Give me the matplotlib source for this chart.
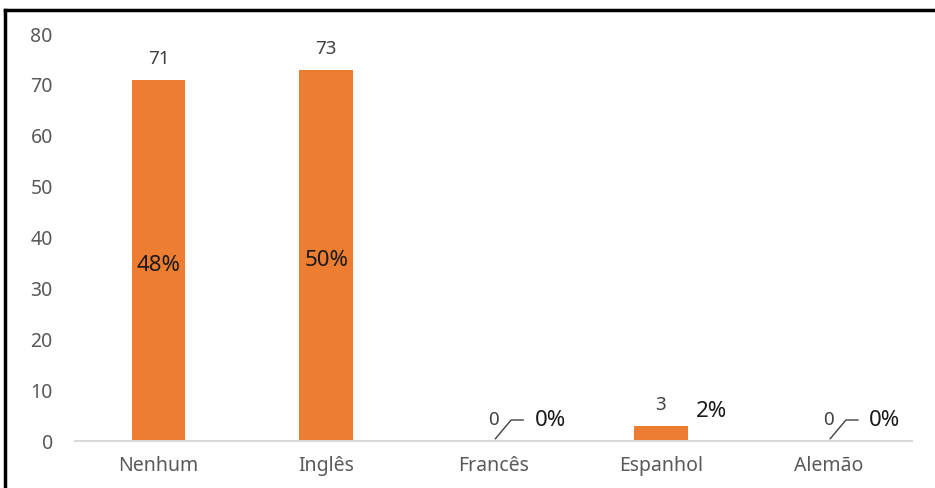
import matplotlib.pyplot as plt
from matplotlib.lines import Line2D

idiomas = ["Nenhum", "Inglês", "Francês", "Espanhol", "Alemão"]
respostas = [71, 73, 0, 3, 0]
y_ticks = [0, 10, 20, 30, 40, 50, 60, 70, 80]

total = sum(respostas)
percentuais = [round(v / total * 100) for v in respostas]

plt.rcParams['font.family'] = ['Noto Sans', 'DejaVu Sans']

fig = plt.figure(figsize=(9.35, 4.88), dpi=100)
ax = fig.add_axes([0.0802, 0.0963, 0.8952, 0.834])

x = range(len(idiomas))
ax.bar(x, respostas, width=0.32, color="#ED7D31", zorder=2)

ax.set_xlim(-0.5, len(idiomas) - 0.5)
ax.set_ylim(0, 80)
ax.set_yticks(y_ticks)
ax.set_xticks(list(x))
ax.set_xticklabels(idiomas)
ax.tick_params(axis="both", length=0, colors="#595959", labelsize=14)
ax.tick_params(axis="x", pad=11)
ax.tick_params(axis="y", pad=16)

for s in ["top", "right", "left"]:
    ax.spines[s].set_visible(False)
ax.spines["bottom"].set_color("#D9D9D9")
ax.spines["bottom"].set_linewidth(1.5)

# rótulos de valor acima das barras
for i, v in enumerate(respostas):
    ax.annotate(str(v), (i, v), xytext=(0, 21), textcoords="offset pixels",
                ha="center", va="center", fontsize=13.5, color="#404040")

# rótulos de percentual
for i, (v, p) in enumerate(zip(respostas, percentuais)):
    if v > 10:
        ax.text(i, v / 2 - 1, f"{p}%", ha="center", va="center",
                fontsize=16, color="#1A1A1A")
    elif v == 0:
        ax.annotate(f"{p}%", (i, v), xytext=(41, 21), textcoords="offset pixels",
                    ha="left", va="center", fontsize=16, color="#1A1A1A",
                    arrowprops=dict(arrowstyle="-", color="#404040", lw=1,
                                    connectionstyle="angle,angleA=0,angleB=50,rad=0",
                                    relpos=(0, 0.5), shrinkA=6, shrinkB=2))
    else:
        ax.annotate(f"{p}%", (i, v), xytext=(35, 14), textcoords="offset pixels",
                    ha="left", va="center", fontsize=16, color="#1A1A1A")

# moldura preta
fig.add_artist(Line2D([0.0053, 1], [0.9795, 0.9795], color="black", lw=2.5))
fig.add_artist(Line2D([0.0053, 0.0053], [0, 0.9795], color="black", lw=2.5))

fig.savefig("out.png", dpi=100)
